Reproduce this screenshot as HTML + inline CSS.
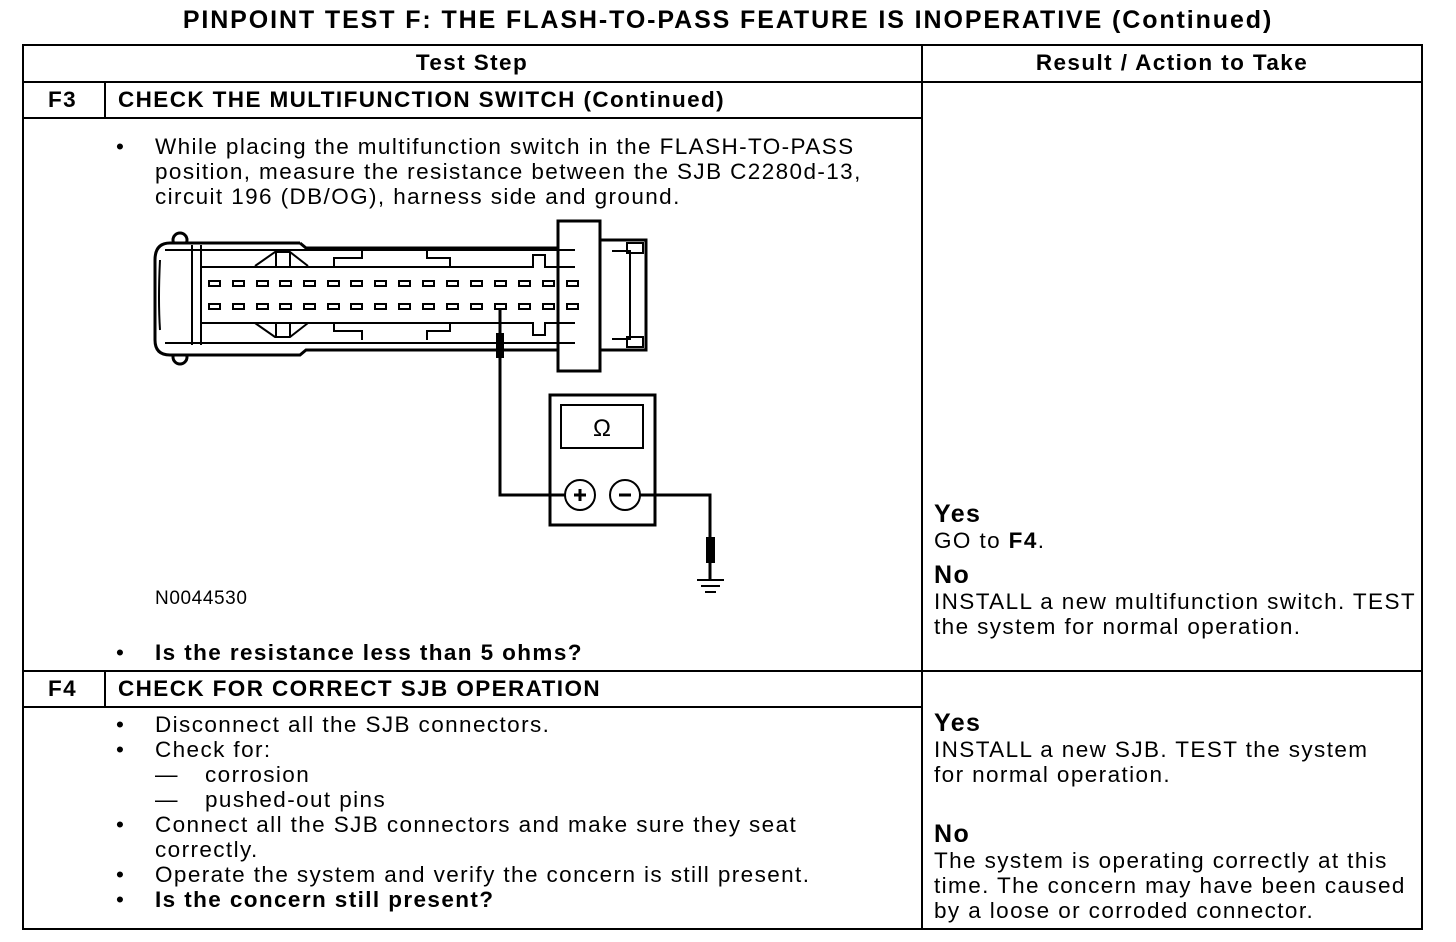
<!DOCTYPE html>
<html><head><meta charset="utf-8"><style>
body{margin:0;background:#fff;width:1456px;height:942px;position:relative;overflow:hidden;font-family:"Liberation Sans",Arial,sans-serif;color:#000}
.t{position:absolute;white-space:nowrap;font-size:22.5px;line-height:25px;letter-spacing:1.4px}
.b{font-weight:bold}
.h{position:absolute;background:#000}
</style></head><body>
<div class="t b" style="left:0;width:1456px;text-align:center;top:6px;font-size:25px;line-height:28px;letter-spacing:1.9px">PINPOINT TEST F: THE FLASH-TO-PASS FEATURE IS INOPERATIVE (Continued)</div>
<!-- table lines -->
<div class="h" style="left:22px;top:44px;width:1401px;height:2px"></div>
<div class="h" style="left:22px;top:81px;width:1401px;height:2px"></div>
<div class="h" style="left:22px;top:117px;width:900px;height:2px"></div>
<div class="h" style="left:22px;top:670px;width:1401px;height:2px"></div>
<div class="h" style="left:22px;top:706px;width:900px;height:2px"></div>
<div class="h" style="left:22px;top:928px;width:1401px;height:2px"></div>
<div class="h" style="left:22px;top:44px;width:2px;height:886px"></div>
<div class="h" style="left:1421px;top:44px;width:2px;height:886px"></div>
<div class="h" style="left:921px;top:44px;width:2px;height:886px"></div>
<div class="h" style="left:104px;top:81px;width:2px;height:38px"></div>
<div class="h" style="left:104px;top:670px;width:2px;height:38px"></div>

<div class="t b" style="left:22px;width:900px;text-align:center;top:50px">Test Step</div>
<div class="t b" style="left:922px;width:500px;text-align:center;top:50px">Result / Action to Take</div>
<div class="t b" style="left:48px;top:87px">F3</div>
<div class="t b" style="left:118px;top:87px">CHECK THE MULTIFUNCTION SWITCH (Continued)</div>
<div class="t" style="left:116px;top:134px">•</div>
<div class="t" style="left:155px;top:134px">While placing the multifunction switch in the FLASH-TO-PASS<br>position, measure the resistance between the SJB C2280d-13,<br>circuit 196 (DB/OG), harness side and ground.</div>
<div class="t" style="left:155px;top:586px;font-size:19px;letter-spacing:0.6px">N0044530</div>
<div class="t" style="left:116px;top:640px">•</div>
<div class="t b" style="left:155px;top:640px">Is the resistance less than 5 ohms?</div>

<div class="t b" style="left:934px;top:502px;font-size:25px">Yes</div>
<div class="t" style="left:934px;top:528px">GO to <b>F4</b>.</div>
<div class="t b" style="left:934px;top:563px;font-size:25px">No</div>
<div class="t" style="left:934px;top:589px">INSTALL a new multifunction switch. TEST<br>the system for normal operation.</div>

<div class="t b" style="left:48px;top:676px">F4</div>
<div class="t b" style="left:118px;top:676px">CHECK FOR CORRECT SJB OPERATION</div>
<div class="t" style="left:116px;top:712px">•<br>•<br><br><br>•<br><br>•<br>•</div>
<div class="t" style="left:155px;top:712px">Disconnect all the SJB connectors.<br>Check for:<br><br><br>Connect all the SJB connectors and make sure they seat<br>correctly.<br>Operate the system and verify the concern is still present.<br><b>Is the concern still present?</b></div>
<div class="t" style="left:155px;top:762px">—<br>—</div>
<div class="t" style="left:205px;top:762px">corrosion<br>pushed-out pins</div>

<div class="t b" style="left:934px;top:711px;font-size:25px">Yes</div>
<div class="t" style="left:934px;top:737px">INSTALL a new SJB. TEST the system<br>for normal operation.</div>
<div class="t b" style="left:934px;top:822px;font-size:25px">No</div>
<div class="t" style="left:934px;top:848px">The system is operating correctly at this<br>time. The concern may have been caused<br>by a loose or corroded connector.</div>

<svg style="position:absolute;left:0;top:0" width="1456" height="942" viewBox="0 0 1456 942">
<g fill="none" stroke="#000" stroke-width="3">
<circle cx="180" cy="240" r="7" stroke-width="3"/>
<circle cx="180" cy="357" r="7" stroke-width="3"/>
<path d="M300,243 H170 Q155,243 155,260 V340 Q155,355 170,355 H300 L306,350 H558 M300,243 L306,248 H558" fill="#fff"/>
<path d="M558,221 H600 V371 H558 Z" fill="#fff"/>
<path d="M600,240 H646 V350 H600" />
<path d="M627,243 H643 V253 H627 Z M627,337 H643 V347 H627 Z" stroke-width="2"/>
<path d="M612,251 H630 V339 H612" stroke-width="2"/>
</g>
<g fill="none" stroke="#000" stroke-width="2">
<path d="M165,250 H575 M165,343 H575"/>
<path d="M192,245 V345 M201,245 V345"/>
<path d="M201,267 H533 V255 H545 V267 H575 M201,323 H533 V335 H545 V323 H575"/>
<path d="M255,266 L275,252 H290 L308,266 M255,323 L275,337 H290 L308,323"/>
<path d="M276,252 V266 M290,252 V266 M276,337 V323 M290,337 V323"/>
<path d="M334,266 V258 H362 V250 M427,250 V258 H450 V266 M334,323 V331 H362 V340 M427,340 V331 H450 V323"/>
<path d="M160,260 Q158,300 160,330"/>
</g>
<g fill="none" stroke="#000" stroke-width="2">
<rect x="209" y="281" width="11" height="5"/><rect x="233" y="281" width="11" height="5"/><rect x="257" y="281" width="11" height="5"/><rect x="280" y="281" width="11" height="5"/><rect x="304" y="281" width="11" height="5"/><rect x="328" y="281" width="11" height="5"/><rect x="351" y="281" width="11" height="5"/><rect x="375" y="281" width="11" height="5"/><rect x="399" y="281" width="11" height="5"/><rect x="423" y="281" width="11" height="5"/><rect x="447" y="281" width="11" height="5"/><rect x="471" y="281" width="11" height="5"/><rect x="495" y="281" width="11" height="5"/><rect x="519" y="281" width="11" height="5"/><rect x="543" y="281" width="11" height="5"/><rect x="567" y="281" width="11" height="5"/>
<rect x="209" y="304" width="11" height="5"/><rect x="233" y="304" width="11" height="5"/><rect x="257" y="304" width="11" height="5"/><rect x="280" y="304" width="11" height="5"/><rect x="304" y="304" width="11" height="5"/><rect x="328" y="304" width="11" height="5"/><rect x="351" y="304" width="11" height="5"/><rect x="375" y="304" width="11" height="5"/><rect x="399" y="304" width="11" height="5"/><rect x="423" y="304" width="11" height="5"/><rect x="447" y="304" width="11" height="5"/><rect x="471" y="304" width="11" height="5"/><rect x="495" y="304" width="11" height="5"/><rect x="519" y="304" width="11" height="5"/><rect x="543" y="304" width="11" height="5"/><rect x="567" y="304" width="11" height="5"/>
</g>
<g fill="none" stroke="#000" stroke-width="3">
<path d="M500,309 V495 H565 M640,495 H710 V580"/>
<rect x="550" y="395" width="105" height="130"/>
<rect x="561" y="405" width="82" height="43" stroke-width="2"/>
<path d="M697,580 H724 M701,586 H720 M705,592 H716" stroke-width="2"/>
</g>
<rect x="496" y="333" width="8" height="25" fill="#000"/>
<rect x="706" y="537" width="9" height="26" fill="#000"/>
<circle cx="580" cy="495" r="15" fill="#fff" stroke="#000" stroke-width="2"/>
<circle cx="625" cy="495" r="15" fill="#fff" stroke="#000" stroke-width="2"/>
<path d="M574,495 H586 M580,489 V501 M619,495 H631" stroke="#000" stroke-width="3"/>
<text x="602" y="436" font-family="Liberation Sans,sans-serif" font-size="24" text-anchor="middle">Ω</text>
</svg>
</body></html>
